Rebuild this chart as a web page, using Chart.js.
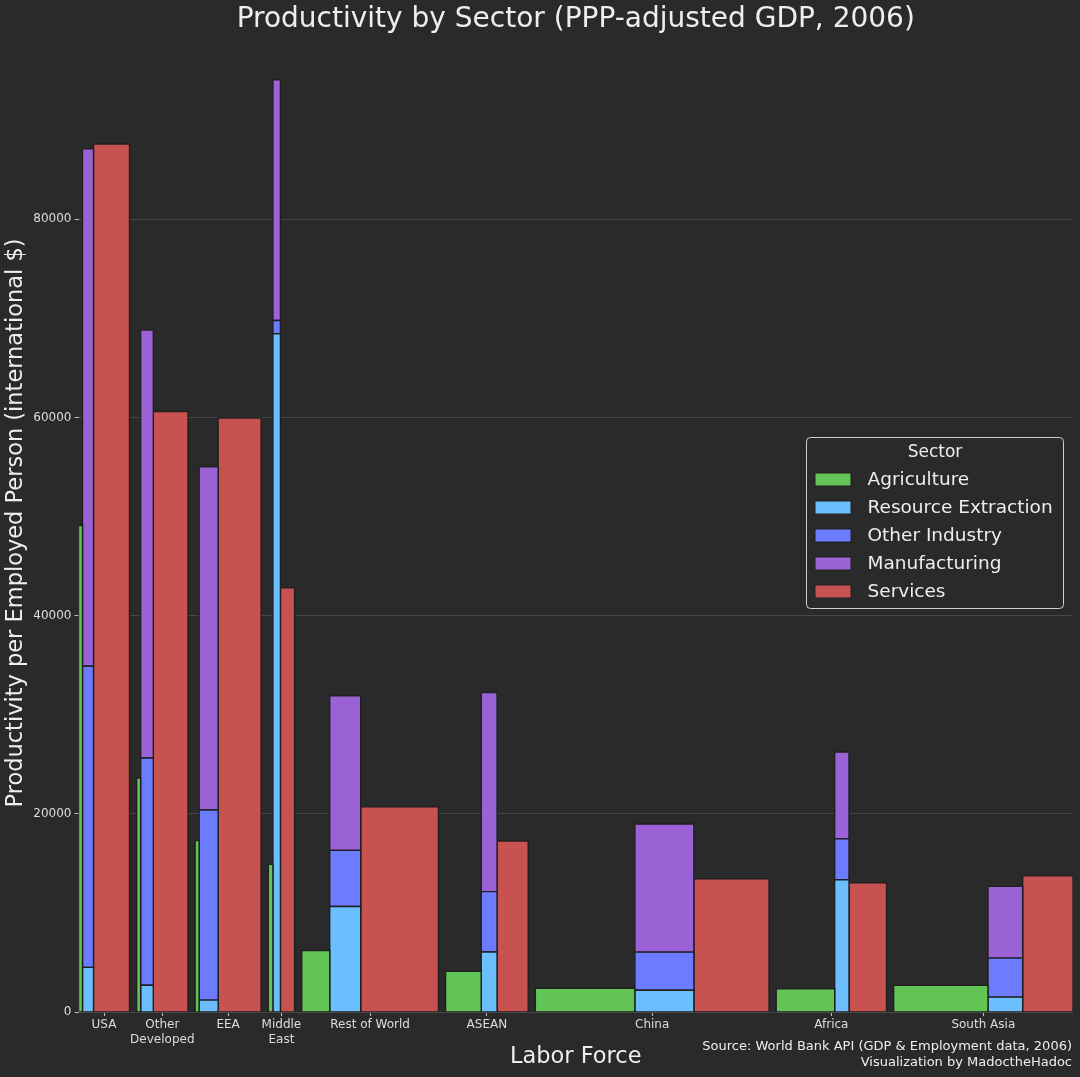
<!DOCTYPE html>
<html lang="en">
<head>
    <meta charset="UTF-8">
    <title>Productivity by Sector (PPP-adjusted GDP, 2006)</title>
    <script src="https://cdn.jsdelivr.net/npm/chart.js"></script>
    <style>
        html, body {
            margin: 0;
            padding: 0;
            background-color: #2a2a2a;
        }
        canvas {
            display: block;
        }
    </style>
</head>
<body>
    <canvas id="chart" width="1080" height="1077"></canvas>
    <script>
        // Regions in plotting order, with their axis labels
        const regions = ['USA', 'Other Developed', 'EEA', 'Middle East', 'Rest of World', 'ASEAN', 'China', 'Africa', 'South Asia'];
        const regionTickLabels = [['USA'], ['Other', 'Developed'], ['EEA'], ['Middle', 'East'], ['Rest of World'], ['ASEAN'], ['China'], ['Africa'], ['South Asia']];

        // Employed persons per sector (millions) -> bar widths
        const agricultureWorkers = [12, 12, 12, 14, 84, 107, 298.5, 175.5, 283];
        const industryWorkers = [33, 38, 57, 22.5, 93, 47.5, 177, 43, 104];
        const servicesWorkers = [108, 104, 129, 42.5, 233, 93.5, 225.5, 112.5, 151];

        // Productivity per employed person (international $)
        const agricultureProd = [49100, 23600, 17300, 14900, 6200, 4100, 2400, 2350, 2700];
        // industry bar is split into three stacked parts
        const resourceProd = [4500, 2700, 1200, 68450, 10650, 6050, 2200, 13350, 1500];
        const otherIndustryProd = [30400, 22930, 19190, 1340, 5660, 6100, 3840, 4140, 3940];
        const manufacturingProd = [52220, 43190, 34620, 24290, 15590, 20100, 12930, 8750, 7240];
        const servicesProd = [87600, 60600, 59950, 42800, 20700, 17250, 13450, 13050, 13750];

        const yTicks = [0, 20000, 40000, 60000, 80000];
        const sectors = ['Agriculture', 'Resource Extraction', 'Other Industry', 'Manufacturing', 'Services'];
        const sectorColors = ['#61c454', '#6bbfff', '#6c7bff', '#9b62d6', '#c85250'];

        const GAP = 21.4;   // space between regions, same unit as workers
        const EDGE = '#202020';
        const BG = '#2a2a2a';

        // x start of every region
        const regionStarts = [];
        let cursor = 0;
        regions.forEach((r, i) => {
            regionStarts.push(cursor);
            cursor += agricultureWorkers[i] + industryWorkers[i] + servicesWorkers[i] + GAP;
        });
        const xMax = cursor - GAP;
        const regionCenters = regions.map((r, i) =>
            regionStarts[i] + (agricultureWorkers[i] + industryWorkers[i] + servicesWorkers[i]) / 2);

        // a closed rectangle as a line path in data units
        function rect(x0, x1, y0, y1) {
            return [
                { x: x0, y: y0 }, { x: x0, y: y1 },
                { x: x1, y: y1 }, { x: x1, y: y0 },
                { x: x0, y: y0 }
            ];
        }

        function box(sectorIndex, points) {
            return {
                label: sectors[sectorIndex],
                data: points,
                fill: 'shape',
                backgroundColor: sectorColors[sectorIndex],
                borderColor: EDGE,
                borderWidth: 1.4,
                borderJoinStyle: 'miter',
                pointRadius: 0,
                pointHoverRadius: 0,
                tension: 0
            };
        }

        const datasets = [];
        regions.forEach((r, i) => {
            const x0 = regionStarts[i];
            const x1 = x0 + agricultureWorkers[i];
            const x2 = x1 + industryWorkers[i];
            const x3 = x2 + servicesWorkers[i];
            const r1 = resourceProd[i];
            const r2 = r1 + otherIndustryProd[i];
            const r3 = r2 + manufacturingProd[i];
            datasets.push(box(0, rect(x0, x1, 0, agricultureProd[i])));
            datasets.push(box(1, rect(x1, x2, 0, r1)));
            datasets.push(box(2, rect(x1, x2, r1, r2)));
            datasets.push(box(3, rect(x1, x2, r2, r3)));
            datasets.push(box(4, rect(x2, x3, 0, servicesProd[i])));
        });

        // matplotlib style legend box + source note
        const extrasPlugin = {
            id: 'extras',
            afterDraw(chart) {
                const ctx = chart.ctx;
                ctx.save();
                // legend frame
                const lx = 806.5, ly = 437.5, lw = 257, lh = 171;
                ctx.beginPath();
                ctx.roundRect(lx, ly, lw, lh, 4);
                ctx.fillStyle = 'rgba(42, 42, 42, 0.85)';
                ctx.fill();
                ctx.strokeStyle = '#cfcfcf';
                ctx.lineWidth = 1;
                ctx.stroke();

                ctx.fillStyle = '#eeeeee';
                ctx.textBaseline = 'middle';
                ctx.textAlign = 'center';
                ctx.font = "17px 'DejaVu Sans', sans-serif";
                ctx.fillText('Sector', 935, 453);

                ctx.textAlign = 'left';
                ctx.font = "18.5px 'DejaVu Sans', sans-serif";
                sectors.forEach((name, k) => {
                    const cy = 479.5 + k * 28;
                    ctx.fillStyle = sectorColors[k];
                    ctx.fillRect(815, cy - 6.5, 36, 13);
                    ctx.strokeStyle = EDGE;
                    ctx.lineWidth = 1;
                    ctx.strokeRect(815, cy - 6.5, 36, 13);
                    ctx.fillStyle = '#eeeeee';
                    ctx.fillText(name, 867.5, cy + 1);
                });

                // source note, bottom right
                ctx.textAlign = 'right';
                ctx.font = "13px 'DejaVu Sans', sans-serif";
                ctx.fillText('Source: World Bank API (GDP & Employment data, 2006)', 1072, 1047);
                ctx.fillText('Visualization by MadoctheHadoc', 1072, 1063);
                ctx.restore();
            }
        };

        Chart.defaults.font.family = "'DejaVu Sans', sans-serif";
        Chart.defaults.color = '#dddddd';

        const chart = new Chart(document.getElementById('chart').getContext('2d'), {
            type: 'line',
            data: { datasets: datasets },
            options: {
                responsive: false,
                animation: false,
                devicePixelRatio: 1,
                events: [],
                layout: { padding: { left: 0, right: 7, top: 0, bottom: 0 } },
                scales: {
                    x: {
                        type: 'linear',
                        min: 0,
                        max: xMax,
                        border: { display: false },
                        grid: {
                            drawOnChartArea: false,
                            drawTicks: true,
                            tickLength: 4,
                            tickColor: '#bbbbbb'
                        },
                        ticks: {
                            autoSkip: false,
                            maxRotation: 0,
                            padding: 2,
                            color: '#dddddd',
                            font: { size: 12 },
                            callback: (value, index) => regionTickLabels[index]
                        },
                        afterBuildTicks: scale => {
                            scale.ticks = regionCenters.map(v => ({ value: v }));
                        },
                        afterFit: scale => { scale.height = 65; },
                        title: {
                            display: true,
                            text: 'Labor Force',
                            color: '#eeeeee',
                            font: { size: 22.5 },
                            padding: { top: 0, bottom: 6.5 }
                        }
                    },
                    y: {
                        min: 0,
                        max: 98700,
                        border: { display: false },
                        grid: {
                            color: '#464646',
                            lineWidth: 1,
                            tickLength: 4,
                            tickColor: '#bbbbbb'
                        },
                        ticks: {
                            includeBounds: false,
                            stepSize: 20000,
                            padding: 3,
                            color: '#dddddd',
                            font: { size: 12 },
                            callback: v => String(v)
                        },
                        afterBuildTicks: scale => {
                            scale.ticks = yTicks.map(v => ({ value: v }));
                        },
                        afterFit: scale => { scale.width = 78.5; },
                        title: {
                            display: true,
                            text: 'Productivity per Employed Person (international $)',
                            color: '#eeeeee',
                            font: { size: 22.5 },
                            padding: { top: 2.5, bottom: 0 }
                        }
                    }
                },
                plugins: {
                    legend: { display: false },
                    tooltip: { enabled: false },
                    title: {
                        display: true,
                        fullSize: false,
                        text: 'Productivity by Sector (PPP-adjusted GDP, 2006)',
                        color: '#eeeeee',
                        font: { size: 28, weight: 'normal', lineHeight: 1 },
                        padding: { top: 6, bottom: 0 }
                    }
                }
            },
            plugins: [extrasPlugin]
        });
    </script>
</body>
</html>
